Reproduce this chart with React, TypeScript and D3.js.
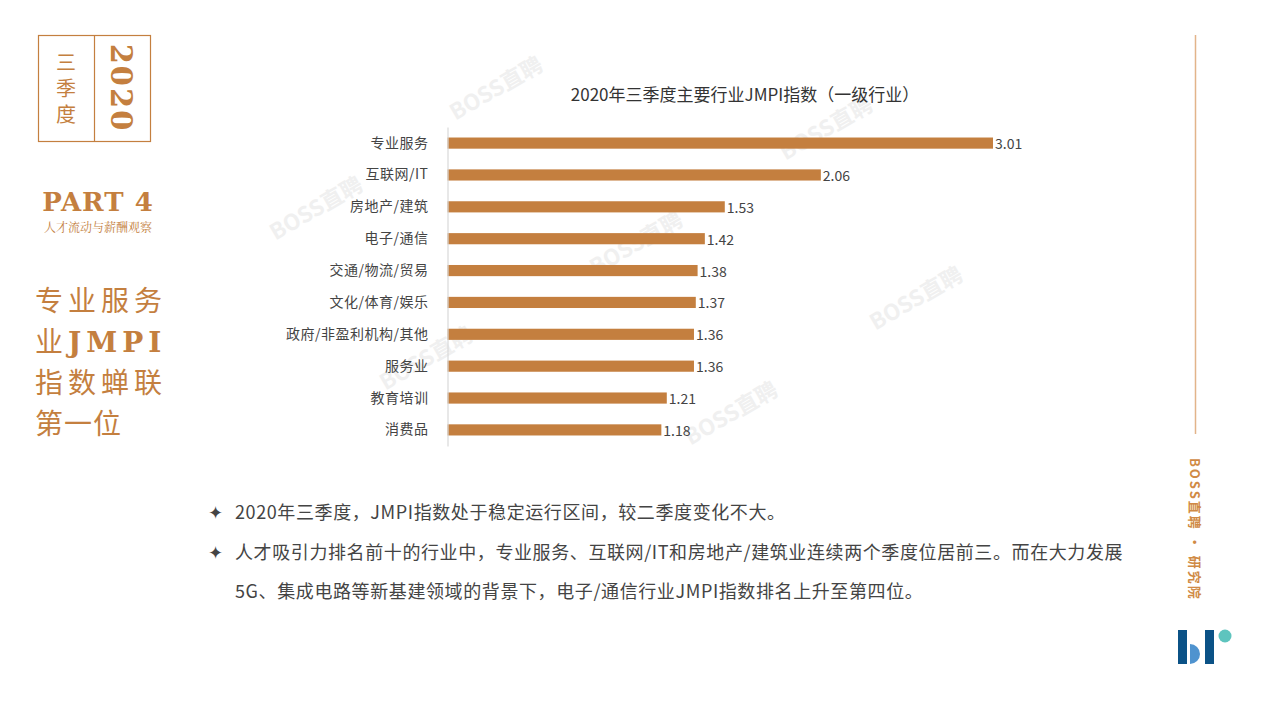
import React, { useEffect, useRef } from "react";
import * as d3 from "d3";

const categories = [
  "专业服务",
  "互联网/IT",
  "房地产/建筑",
  "电子/通信",
  "交通/物流/贸易",
  "文化/体育/娱乐",
  "政府/非盈利机构/其他",
  "服务业",
  "教育培训",
  "消费品",
];
const values = [3.01, 2.06, 1.53, 1.42, 1.38, 1.37, 1.36, 1.36, 1.21, 1.18];

const chartTitle = "2020年三季度主要行业JMPI指数（一级行业）";
const bullets = [
  ["2020年三季度，JMPI指数处于稳定运行区间，较二季度变化不大。"],
  [
    "人才吸引力排名前十的行业中，专业服务、互联网/IT和房地产/建筑业连续两个季度位居前三。而在大力发展",
    "5G、集成电路等新基建领域的背景下，电子/通信行业JMPI指数排名上升至第四位。",
  ],
];
const headingLines = ["专业服务", "业JMPI", "指数蝉联", "第一位"];

const ORANGE = "#c47f3f";
const SANS = "'Noto Sans CJK SC', 'Liberation Sans', sans-serif";
const SERIF = "'DejaVu Serif', 'Noto Serif CJK SC', serif";

const App: React.FC = () => {
  const svgRef = useRef<SVGSVGElement | null>(null);

  useEffect(() => {
    if (!svgRef.current) return;
    const svg = d3.select(svgRef.current);
    svg.selectAll("*").remove();

    // watermarks
    const marks = [
      [500, 95], [830, 135], [320, 215], [640, 250], [920, 305], [430, 365], [735, 420],
    ];
    svg.append("g")
      .selectAll("text")
      .data(marks)
      .enter()
      .append("text")
      .attr("transform", d => `translate(${d[0]},${d[1]}) rotate(-30)`)
      .attr("text-anchor", "middle")
      .attr("font-family", SANS)
      .attr("font-weight", "bold")
      .attr("font-size", 22)
      .attr("fill", "#f0f0f0")
      .text("BOSS直聘");

    // left box
    const box = svg.append("g");
    box.append("rect").attr("x", 38.5).attr("y", 35.5).attr("width", 112).attr("height", 106)
      .attr("fill", "none").attr("stroke", ORANGE).attr("stroke-width", 1.2);
    box.append("line").attr("x1", 94.5).attr("x2", 94.5).attr("y1", 35.5).attr("y2", 141.5)
      .attr("stroke", ORANGE).attr("stroke-width", 1.2);
    box.append("text").attr("x", 66).attr("y", 52)
      .style("writing-mode", "vertical-rl")
      .attr("letter-spacing", 6)
      .attr("font-family", "'Noto Sans CJK SC', serif").attr("font-size", 20)
      .attr("fill", ORANGE).text("三季度");
    box.append("text").attr("transform", "translate(121,88) rotate(90)")
      .attr("text-anchor", "middle").attr("dominant-baseline", "central")
      .attr("font-family", SERIF).attr("font-weight", "bold").attr("font-size", 29)
      .attr("letter-spacing", 2)
      .attr("fill", ORANGE).text("2020");

    box.append("text").attr("x", 98).attr("y", 211).attr("text-anchor", "middle")
      .attr("font-family", SERIF).attr("font-weight", "bold").attr("font-size", 26)
      .attr("letter-spacing", 1)
      .attr("fill", ORANGE).text("PART 4");
    box.append("text").attr("x", 98).attr("y", 232).attr("text-anchor", "middle")
      .attr("font-family", "'Noto Serif CJK SC', 'Noto Sans CJK SC', serif").attr("font-size", 12)
      .attr("fill", ORANGE).text("人才流动与薪酬观察");

    headingLines.forEach((line, i) => {
      const t = box.append("text").attr("x", 35).attr("y", 311 + i * 41)
        .attr("font-family", "'Noto Sans CJK SC', serif").attr("font-size", 28)
        .attr("letter-spacing", i === 3 ? 1 : 5).attr("fill", ORANGE);
      if (line.includes("JMPI")) {
        t.append("tspan").text("业");
        t.append("tspan").attr("font-family", SERIF).attr("font-weight", "bold")
          .attr("letter-spacing", 5).text("JMPI");
      } else {
        t.text(line);
      }
    });

    // right decoration
    svg.append("line").attr("x1", 1195.5).attr("x2", 1195.5).attr("y1", 35).attr("y2", 434)
      .attr("stroke", "#e2b48a").attr("stroke-width", 1.5);
    svg.append("text").attr("transform", "translate(1195,458) rotate(90)")
      .attr("font-family", SANS).attr("font-size", 13).attr("font-weight", "bold")
      .attr("dominant-baseline", "central").attr("letter-spacing", 2)
      .attr("fill", "#d08a45").text("BOSS直聘 · 研究院");

    // logo
    const logo = svg.append("g");
    logo.append("rect").attr("x", 1178).attr("y", 630).attr("width", 9).attr("height", 34).attr("fill", "#0b5286");
    logo.append("path").attr("d", "M1190,644 A10,10 0 0 1 1190,664 Z").attr("fill", "#4f93cf");
    logo.append("rect").attr("x", 1205).attr("y", 630).attr("width", 9).attr("height", 34).attr("fill", "#0b5286");
    logo.append("circle").attr("cx", 1225).attr("cy", 636).attr("r", 6.5).attr("fill", "#5ec4be");

    // chart
    const x0 = 447.5;
    const x = d3.scaleLinear().domain([0, 3.01]).range([x0, 993]);
    const y = d3.scaleBand().domain(categories).range([127, 446]).paddingInner(0.65).paddingOuter(0.33);

    svg.append("text").attr("x", 745).attr("y", 101).attr("text-anchor", "middle")
      .attr("font-family", SANS).attr("font-size", 17).attr("fill", "#333").text(chartTitle);

    const g = svg.append("g");
    g.selectAll("rect.bar").data(values).enter().append("rect").attr("class", "bar")
      .attr("x", x0).attr("y", (d, i) => y(categories[i])!)
      .attr("width", d => x(d) - x0).attr("height", y.bandwidth())
      .attr("fill", ORANGE);

    g.selectAll("text.val").data(values).enter().append("text").attr("class", "val")
      .attr("x", d => x(d) + 2).attr("y", (d, i) => y(categories[i])! + y.bandwidth() / 2)
      .attr("dominant-baseline", "central")
      .attr("font-family", SANS).attr("font-size", 14).attr("fill", "#444")
      .text(d => d.toFixed(2));

    const axis = g.append("g").attr("transform", `translate(${x0},0)`)
      .call(d3.axisLeft(y).tickSize(0).tickPadding(19));
    axis.select(".domain").attr("stroke", "#d9d9d9").attr("stroke-width", 1.2);
    axis.selectAll("text").attr("font-family", SANS).attr("font-size", 14)
      .attr("letter-spacing", 0.5).attr("fill", "#444");

    // bullets
    const bg = svg.append("g");
    let yy = 519;
    bullets.forEach(b => {
      bg.append("text").attr("x", 208).attr("y", yy).attr("font-size", 18)
        .attr("font-family", "'DejaVu Sans', sans-serif").attr("fill", "#444").text("✦");
      b.forEach(line => {
        bg.append("text").attr("x", 235).attr("y", yy).attr("font-family", SANS)
          .attr("font-size", 18).attr("letter-spacing", 0.6).attr("fill", "#444").text(line);
        yy += 39.5;
      });
    });
  }, []);

  return (
    <svg ref={svgRef} width={1280} height={720}
      style={{ position: "absolute", left: 0, top: 0, background: "#fff" }} />
  );
};

export default App;
